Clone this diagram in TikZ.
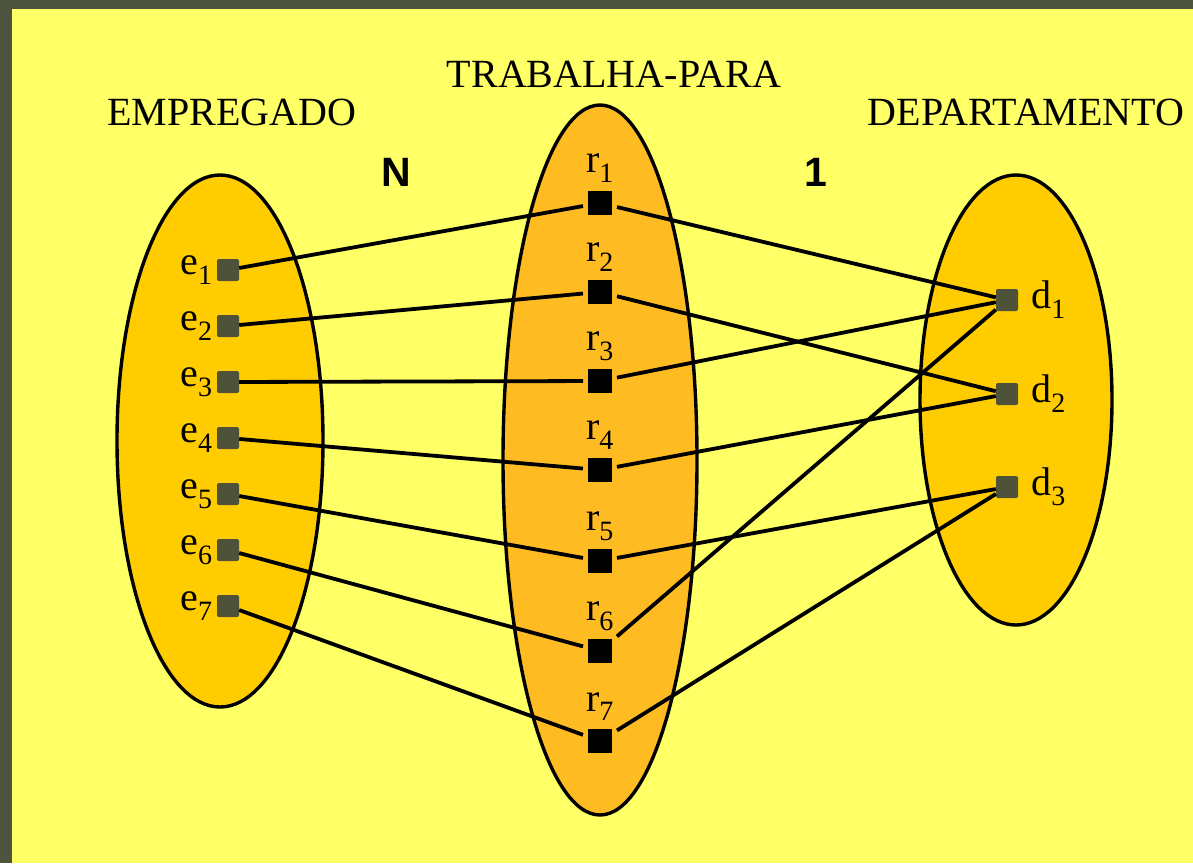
\documentclass[tikz,border=0pt]{standalone}
\usepackage{fontspec}
\setmainfont{Liberation Serif}
\newfontfamily\arialfont{Liberation Sans}
\usetikzlibrary{positioning}

\definecolor{frameolive}{HTML}{4D543D}
\definecolor{bgyellow}{HTML}{FFFF66}
\definecolor{setorange}{HTML}{FFCC00}
\definecolor{relorange}{HTML}{FFBB22}
\definecolor{boxolive}{HTML}{4D5239}

\tikzset{
  setshape/.style = {draw = black, line width = 3.4pt, fill = setorange},
  ebox/.style = {fill = boxolive, rounded corners = 2pt, minimum size = 22pt, inner sep = 0pt},
  rbox/.style = {fill = black, minimum size = 24pt, inner sep = 0pt, outer sep = 5pt},
  link/.style = {line width = 3.8pt},
  lbl/.style = {font = \fontsize{40}{42}\selectfont, inner sep = 1pt}
}

\begin{document}
\begin{tikzpicture} [x = 1pt, y = -1pt]
\fill[frameolive] (0, 0) rectangle (1193, 863);
\fill[bgyellow] (12, 9) rectangle (1193, 863);
% the three sets
\draw[setshape] (220, 441) ellipse [x radius = 103, y radius = 266];
\draw[setshape, fill = relorange] (600, 460) ellipse [x radius = 97, y radius = 355];
\draw[setshape] (1016, 400) ellipse [x radius = 96, y radius = 225];
\node[lbl] at (232, 112){EMPREGADO};
\node[lbl] at (614, 74){TRABALHA-PARA};
\node[lbl] at (1026, 112){DEPARTAMENTO};
\node[font = \arialfont\bfseries\fontsize{41}{43}\selectfont] at (396, 172){N};
\node[font = \arialfont\bfseries\fontsize{41}{43}\selectfont] at (816, 172){1};
% entity boxes
\node[ebox] (e1) at (228, 270){};
\node[ebox] (e2) at (228, 326){};
\node[ebox] (e3) at (228, 382){};
\node[ebox] (e4) at (228, 438){};
\node[ebox] (e5) at (228, 494){};
\node[ebox] (e6) at (228, 550){};
\node[ebox] (e7) at (228, 606){};
\node[rbox] (r1) at (600, 203){};
\node[rbox] (r2) at (600, 292){};
\node[rbox] (r3) at (600, 381){};
\node[rbox] (r4) at (600, 470){};
\node[rbox] (r5) at (600, 561){};
\node[rbox] (r6) at (600, 651){};
\node[rbox] (r7) at (600, 741){};
\node[ebox] (d1) at (1007, 300){};
\node[ebox] (d2) at (1007, 394){};
\node[ebox] (d3) at (1007, 487){};
% links
\draw[link] (e1) -- (r1);
\draw[link] (e2) -- (r2);
\draw[link] (e3) -- (r3);
\draw[link] (e4) -- (r4);
\draw[link] (e5) -- (r5);
\draw[link] (e6) -- (r6);
\draw[link] (e7) -- (r7);
\draw[link] (r1) -- (d1);
\draw[link] (r2) -- (d2);
\draw[link] (r3) -- (d1);
\draw[link] (r4) -- (d2);
\draw[link] (r5) -- (d3);
\draw[link] (r6) -- (d1);
\draw[link] (r7) -- (d3);
% labels
\node[lbl, left = 3pt of e1] (le1){e\textsubscript{1}};
\node[lbl, left = 3pt of e2] (le2){e\textsubscript{2}};
\node[lbl, left = 3pt of e3] (le3){e\textsubscript{3}};
\node[lbl, left = 3pt of e4] (le4){e\textsubscript{4}};
\node[lbl, left = 3pt of e5] (le5){e\textsubscript{5}};
\node[lbl, left = 3pt of e6] (le6){e\textsubscript{6}};
\node[lbl, left = 3pt of e7] (le7){e\textsubscript{7}};
\node[lbl, above = 2pt of r1] (lr1){r\textsubscript{1}};
\node[lbl, above = 2pt of r2] (lr2){r\textsubscript{2}};
\node[lbl, above = 2pt of r3] (lr3){r\textsubscript{3}};
\node[lbl, above = 2pt of r4] (lr4){r\textsubscript{4}};
\node[lbl, above = 2pt of r5] (lr5){r\textsubscript{5}};
\node[lbl, above = 2pt of r6] (lr6){r\textsubscript{6}};
\node[lbl, above = 2pt of r7] (lr7){r\textsubscript{7}};
\node[lbl, right = 12pt of d1] (ld1){d\textsubscript{1}};
\node[lbl, right = 12pt of d2] (ld2){d\textsubscript{2}};
\node[lbl, right = 12pt of d3] (ld3){d\textsubscript{3}};
\end{tikzpicture}
\end{document}
